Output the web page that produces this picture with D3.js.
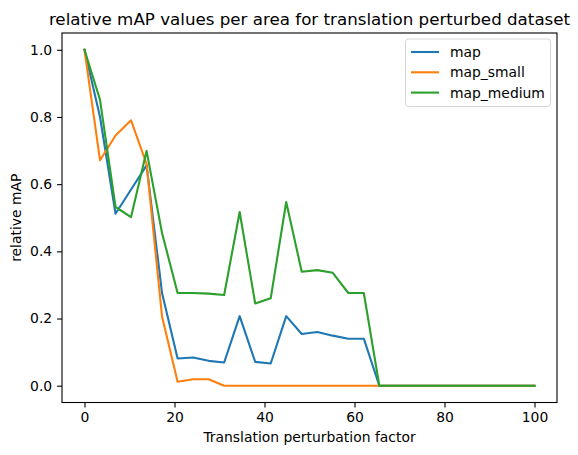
<!DOCTYPE html>
<html>
<head>
<meta charset="utf-8">
<script src="https://cdn.jsdelivr.net/npm/d3@7"></script>
<style>
  body { margin: 0; background: #fff; }
  svg { font-family: "DejaVu Sans", sans-serif; }
</style>
</head>
<body>
<svg id="chart" width="578" height="455"></svg>
<script>
'use strict';

// perturbation factor: 30 steps from 0 to 100
var factors = d3.range(30).map(function (i) { return i * 100 / 29; });

var mapAll = [1.0, 0.80, 0.512, 0.584, 0.656, 0.275, 0.081, 0.084, 0.074, 0.069,
  0.207, 0.071, 0.066, 0.207, 0.154, 0.160, 0.149, 0.140, 0.140, 0,
  0, 0, 0, 0, 0, 0, 0, 0, 0, 0];
var mapSmall = [1.0, 0.671, 0.745, 0.79, 0.66, 0.205, 0.012, 0.019, 0.019, 0,
  0, 0, 0, 0, 0, 0, 0, 0, 0, 0,
  0, 0, 0, 0, 0, 0, 0, 0, 0, 0];
var mapMedium = [1.0, 0.851, 0.532, 0.502, 0.699, 0.454, 0.276, 0.276, 0.274, 0.270,
  0.517, 0.245, 0.260, 0.547, 0.339, 0.344, 0.336, 0.276, 0.276, 0,
  0, 0, 0, 0, 0, 0, 0, 0, 0, 0];

var seriesNames = ['map', 'map_small', 'map_medium'];
var seriesColors = ['#1f77b4', '#ff7f0e', '#2ca02c'];
var xTicks = [0, 20, 40, 60, 80, 100];
var yTicks = [0, 0.2, 0.4, 0.6, 0.8, 1.0];

var svg = d3.select('#chart');
var box = { left: 62, right: 557, top: 33, bottom: 402.5 };

// matplotlib-style 5% margins
var x = d3.scaleLinear().domain([-5, 105]).range([box.left, box.right]);
var y = d3.scaleLinear().domain([-0.05, 1.05]).range([box.bottom, box.top]);

var fontSize = '13.9px';

// x axis
var xAxis = svg.append('g')
  .attr('transform', 'translate(0,' + box.bottom + ')')
  .call(d3.axisBottom(x).tickValues(xTicks).tickSize(4.9).tickPadding(4.9).tickFormat(d3.format('d')));
xAxis.select('.domain').remove();
xAxis.selectAll('line').attr('stroke', '#000').attr('stroke-width', 1.1);
xAxis.selectAll('text').attr('font-size', fontSize).attr('fill', '#000')
  .attr('font-family', '"DejaVu Sans", sans-serif');

// y axis
var yAxis = svg.append('g')
  .attr('transform', 'translate(' + box.left + ',0)')
  .call(d3.axisLeft(y).tickValues(yTicks).tickSize(4.9).tickPadding(4.9).tickFormat(d3.format('.1f')));
yAxis.select('.domain').remove();
yAxis.selectAll('line').attr('stroke', '#000').attr('stroke-width', 1.1);
yAxis.selectAll('text').attr('font-size', fontSize).attr('fill', '#000')
  .attr('font-family', '"DejaVu Sans", sans-serif');

// lines
var allSeries = [mapAll, mapSmall, mapMedium];
var line = d3.line()
  .x(function (d, i) { return x(factors[i]); })
  .y(function (d) { return y(d); });

allSeries.forEach(function (vals, k) {
  svg.append('path')
    .datum(vals)
    .attr('fill', 'none')
    .attr('stroke', seriesColors[k])
    .attr('stroke-width', 2.1)
    .attr('stroke-linejoin', 'round')
    .attr('stroke-linecap', 'square')
    .attr('d', line);
});

// frame
svg.append('rect')
  .attr('x', box.left).attr('y', box.top)
  .attr('width', box.right - box.left).attr('height', box.bottom - box.top)
  .attr('fill', 'none').attr('stroke', '#000').attr('stroke-width', 1.1);

// titles
svg.append('text')
  .attr('x', (box.left + box.right) / 2).attr('y', 24.5)
  .attr('text-anchor', 'middle').attr('font-size', '16.7px')
  .text('relative mAP values per area for translation perturbed dataset');

svg.append('text')
  .attr('x', (box.left + box.right) / 2).attr('y', 442)
  .attr('text-anchor', 'middle').attr('font-size', fontSize)
  .text('Translation perturbation factor');

svg.append('text')
  .attr('transform', 'translate(21,' + (box.top + box.bottom) / 2 + ') rotate(-90)')
  .attr('text-anchor', 'middle').attr('font-size', fontSize)
  .text('relative mAP');

// legend
var legend = svg.append('g');
legend.append('rect')
  .attr('x', 405.5).attr('y', 39).attr('width', 145).attr('height', 67.5)
  .attr('rx', 3).attr('fill', '#fff').attr('fill-opacity', 0.8)
  .attr('stroke', '#d6d6d6').attr('stroke-width', 1);

seriesNames.forEach(function (name, k) {
  var ly = 52 + k * 20.3;
  legend.append('line')
    .attr('x1', 411).attr('x2', 439).attr('y1', ly).attr('y2', ly)
    .attr('stroke', seriesColors[k]).attr('stroke-width', 2.1);
  legend.append('text')
    .attr('x', 450).attr('y', ly + 5)
    .attr('font-size', fontSize)
    .text(name);
});
</script>
</body>
</html>
